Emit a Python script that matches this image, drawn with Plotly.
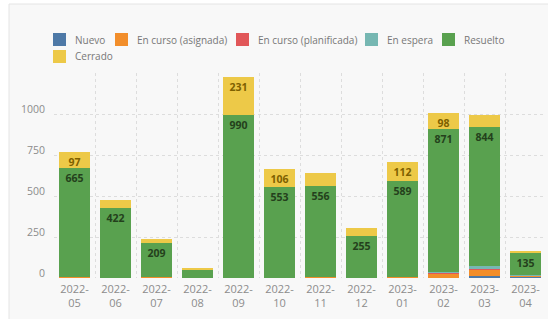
import plotly.graph_objects as go

categories = ["2022-05", "2022-06", "2022-07", "2022-08", "2022-09", "2022-10",
              "2022-11", "2022-12", "2023-01", "2023-02", "2023-03", "2023-04"]
nuevo       = [0, 0, 0, 0, 0, 0, 0, 0, 0, 0, 10, 8]
asignada    = [4, 3, 4, 2, 3, 3, 4, 2, 4, 30, 40, 6]
planificada = [0, 0, 0, 0, 0, 0, 0, 0, 0, 2, 2, 0]
espera      = [0, 0, 0, 0, 0, 0, 0, 0, 0, 3, 24, 6]
resuelto    = [665, 422, 209, 45, 990, 553, 556, 255, 589, 871, 844, 135]
cerrado     = [97, 52, 24, 15, 231, 106, 80, 45, 112, 98, 75, 5]
x_ticktext = [c.replace("-", "-<br>") for c in categories]
y_ticks = [0, 250, 500, 750, 1000, 1250]
y_ticktext = ["0", "250", "500", "750", "1000", ""]

series = [
    ("Nuevo", nuevo, "#4e79a7", None),
    ("En curso (asignada)", asignada, "#f28e2b", None),
    ("En curso (planificada)", planificada, "#e15759", None),
    ("En espera", espera, "#76b7b2", None),
    ("Resuelto", resuelto, "#59a14f", "#24401c"),
    ("Cerrado", cerrado, "#edc948", "#7d6000"),
]

W, H = 548, 319
L, R, T, B = 54, 2, 73, 41
PW, PH = W - L - R, H - T - B


def px(x):
    return (x - L) / PW


def py(y):
    return (H - B - y) / PH


FONT = "Open Sans"
fig = go.Figure()
for name, vals, color, tcolor in series:
    kw = {}
    if tcolor:
        kw = dict(
            text=[str(v) if v >= 90 else "" for v in vals],
            textposition="inside",
            insidetextanchor="end",
            textangle=0,
            textfont=dict(family=FONT, size=10.5, color=tcolor, weight=700),
        )
    fig.add_trace(go.Bar(x=categories, y=vals, name=name,
                         marker=dict(color=color, line=dict(width=0)),
                         showlegend=False, **kw))

shapes = [dict(type="rect", xref="paper", yref="paper", layer="below",
               x0=px(9), x1=px(W + 10), y0=py(4), y1=py(H + 10),
               fillcolor="#f8f8f8", line=dict(color="#e4e4e4", width=1))]
annotations = []

# custom legend
leg_pos = [(53, 39.5), (115, 39.5), (236, 39.5), (365, 39.5), (442, 39.5), (53, 56.5)]
sw = 13
for (name, vals, color, tcolor), (lx, ly) in zip(series, leg_pos):
    shapes.append(dict(type="rect", xref="paper", yref="paper",
                       x0=px(lx), x1=px(lx + sw), y0=py(ly - sw / 2), y1=py(ly + sw / 2),
                       fillcolor=color, line=dict(width=0)))
    annotations.append(dict(xref="paper", yref="paper", x=px(lx + 20), y=py(ly),
                            xanchor="left", yanchor="middle", showarrow=False,
                            text=name, font=dict(family=FONT, size=10, color="#777777")))

fig.update_layout(
    width=W, height=H,
    margin=dict(l=L, r=R, t=T, b=B, pad=0),
    barmode="stack", bargap=0.24,
    paper_bgcolor="#ffffff", plot_bgcolor="rgba(0,0,0,0)",
    font=dict(family=FONT, color="#888888"),
    shapes=shapes, annotations=annotations,
    showlegend=False,
    uniformtext=dict(minsize=10.5, mode="show"),
)
fig.update_xaxes(type="category", tickvals=categories, ticktext=x_ticktext,
                 showgrid=True, tickson="boundaries", griddash="dot",
                 gridcolor="#dddddd", gridwidth=1, showline=False, zeroline=False,
                 ticks="", ticklabelstandoff=3,
                 tickfont=dict(family=FONT, size=11, color="#8c8c8c"))
fig.update_yaxes(range=[0, 1250], tickvals=y_ticks, ticktext=y_ticktext,
                 showgrid=True, griddash="dot", gridcolor="#dddddd", gridwidth=1,
                 zeroline=False, showline=False, ticks="",
                 ticklabelstandoff=8, ticklabelshift=-5,
                 tickfont=dict(family=FONT, size=10.5, color="#8c8c8c"))

fig.write_html("out.html", config={"displayModeBar": False},
               post_script="document.body.style.margin='0';document.body.style.overflow='hidden';")
